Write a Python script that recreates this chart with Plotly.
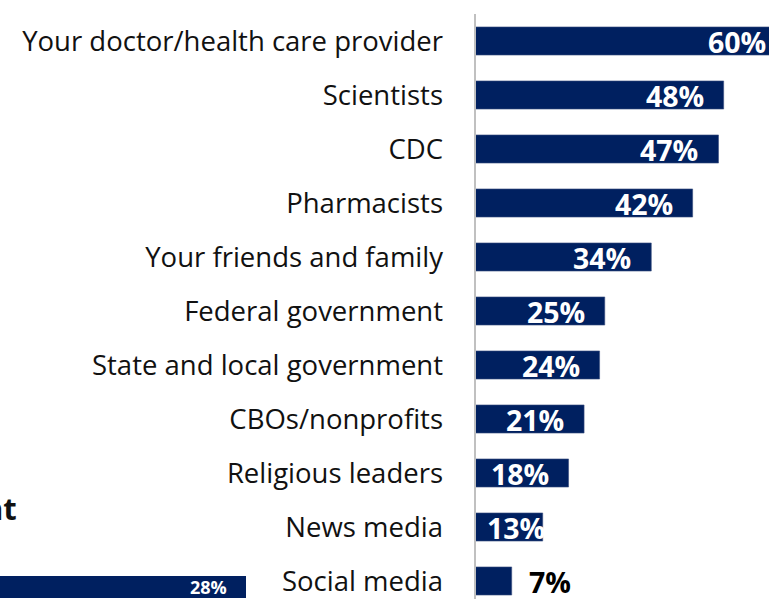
import plotly.graph_objects as go

# Trusted sources of information (% of respondents)
sources = [
    "Your doctor/health care provider",
    "Scientists",
    "CDC",
    "Pharmacists",
    "Your friends and family",
    "Federal government",
    "State and local government",
    "CBOs/nonprofits",
    "Religious leaders",
    "News media",
    "Social media",
]
shares = [60, 48, 47, 42, 34, 25, 24, 21, 18, 13, 7]

# Neighbouring panel, partly visible at the lower left
side_value = [28]
side_title = "nt"

NAVY = "#002060"
W, H = 769, 599
FONT = "Open Sans"

rows = list(range(len(sources)))

x0 = 475.5
px_per_unit = 5.17
x_max = (W - x0) / px_per_unit

fig = go.Figure()

fig.add_trace(go.Bar(
    x=shares, y=rows, orientation="h", width=0.52,
    marker=dict(color=NAVY, line=dict(color="#3a4f80", width=0.6)),
    hoverinfo="skip", showlegend=False,
))

# value labels: inside the bar end when the bar is long enough, outside otherwise.
# Bars running past the visible range keep their label tied to the true bar end.
inside_min = 10
label_floor = 17.3
for v, r in zip(shares, rows):
    anchor = min(max(v, label_floor), x_max)
    overflow_px = (max(v, label_floor) - anchor) * px_per_unit
    if v >= inside_min:
        fig.add_annotation(
            x=anchor, y=r, xref="x", yref="y", text=f"{v}%",
            xanchor="right", yanchor="middle",
            xshift=-18 + overflow_px, yshift=-1,
            showarrow=False,
            font=dict(family=FONT, size=28.5, color="white", weight="bold"),
        )
    else:
        fig.add_annotation(
            x=v, y=r, xref="x", yref="y", text=f"{v}%",
            xanchor="left", yanchor="middle", xshift=15, yshift=-1,
            showarrow=False,
            font=dict(family=FONT, size=28.5, color="black", weight="bold"),
        )

# partial bar of the neighbouring panel
fig.add_trace(go.Bar(
    x=side_value, y=[0], orientation="h", width=1,
    marker=dict(color=NAVY, line=dict(width=0)),
    xaxis="x2", yaxis="y2", hoverinfo="skip", showlegend=False,
))
fig.add_annotation(
    x=side_value[0], y=0, xref="x2", yref="y2", text=f"{side_value[0]}%",
    xanchor="right", yanchor="middle", xshift=-17, showarrow=False,
    font=dict(family=FONT, size=18, color="white", weight="bold"),
)
fig.add_annotation(
    x=19 / W, y=1 - 508 / H, xref="paper", yref="paper", text=side_title,
    xanchor="right", yanchor="middle", showarrow=False,
    font=dict(family=FONT, size=31, color="#111111", weight="bold"),
)

fig.update_layout(
    width=W, height=H,
    margin=dict(l=0, r=0, t=0, b=0),
    paper_bgcolor="white", plot_bgcolor="white",
    xaxis=dict(
        domain=[x0 / W, 1], range=[0, x_max],
        visible=False, fixedrange=True,
    ),
    yaxis=dict(
        domain=[0, 1 - 14 / H],
        range=[(H - 41) / 54, -0.5],
        tickvals=rows, ticktext=sources,
        showline=True, linecolor="#c0c0c0", linewidth=2,
        showgrid=False, zeroline=False, ticks="",
        ticklabelstandoff=25,
        tickfont=dict(family=FONT, size=27.5, color="#111111"),
    ),
    xaxis2=dict(
        domain=[0, 0.4], range=[6, 6 + 0.4 * W / (246 / 22)],
        visible=False, anchor="y2",
    ),
    yaxis2=dict(
        domain=[0, 40 / H], range=[-12 / 22, -12 / 22 + 40 / 22],
        visible=False, anchor="x2",
    ),
)

fig.write_html("out.html")
